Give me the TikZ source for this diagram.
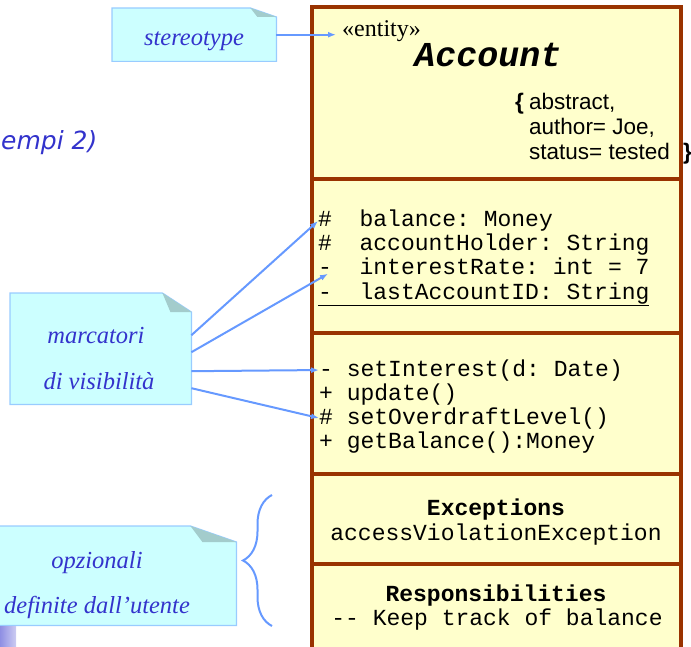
\documentclass[tikz,border=0pt]{standalone}
\usepackage{fontspec}
\setmainfont{Liberation Serif}
\setsansfont{Liberation Sans}
\setmonofont{Liberation Mono}
\newfontfamily\comicfont{DejaVu Sans}
\usetikzlibrary{calc,arrows.meta,decorations.pathreplacing}
\definecolor{notefill}{HTML}{CCFFFF}
\definecolor{noteline}{HTML}{99CCFF}
\definecolor{notefold}{HTML}{A3CCCC}
\definecolor{notetext}{HTML}{3333CC}
\definecolor{arrowblue}{HTML}{6699FF}
\definecolor{classline}{HTML}{993300}
\definecolor{classfill}{HTML}{FFFFCC}
\tikzset{
  notebox/.style={inner sep=0pt,anchor=north west},
  notestyle/.style={draw=noteline,fill=notefill,line width=1.2pt},
  notetxt/.style={anchor=base,inner sep=0pt,text=notetext,font=\itshape\fontsize{24.5}{28}\selectfont},
  codeline/.style={anchor=base west,inner sep=0pt,font=\ttfamily\fontsize{23}{25}\selectfont},
  codehead/.style={anchor=base,inner sep=0pt,font=\ttfamily\fontsize{23}{25}\selectfont},
  headbold/.style={codehead,font=\ttfamily\bfseries\fontsize{23}{25}\selectfont},
  propline/.style={anchor=base west,inner sep=0pt,font=\sffamily\fontsize{22.5}{25}\selectfont},
  propbrace/.style={propline,font=\sffamily\bfseries\fontsize{22.5}{25}\selectfont},
  visarrow/.style={arrowblue,line width=2pt,-{Latex[length=8pt,width=6pt]}},
  classbox/.style={draw=classline,line width=3.2pt,fill=classfill}
}
\begin{document}
\begin{tikzpicture}[x=1pt,y=-1pt]
\useasboundingbox (0,0) rectangle (691,647);
\clip (0,0) rectangle (691,647);
%title, cut at the left
\node[anchor=base west,inner sep=0pt,text=notetext,font=\comicfont\itshape\fontsize{25}{28}\selectfont] (title) at (1,150) {empi 2)};
%class box
\draw[classbox] (312,7) rectangle (681,670);
\foreach \y in {179,333,474,564}
{
\draw[classline,line width=3.2pt] (312,\y) -- (681,\y);
}
%name compartment
\node[anchor=base west,inner sep=0pt,font=\fontsize{24}{26}\selectfont] (stereo) at (342,37) {«entity»};
\node[anchor=base,inner sep=0pt,font=\ttfamily\bfseries\itshape\fontsize{35}{40}\selectfont] (cname) at (488,67) {Account};
\node[propbrace] (lbrace) at (515,110) {\{};
\node[propline] (prop1) at (529,110) {abstract,};
\node[propline] (prop2) at (529,135) {author= Joe,};
\node[propline] (prop3) at (529,160) {status= tested};
\node[propbrace] (rbrace) at (683,160) {\}};
%attributes
\node[codeline] (att1) at (318,227) {\#~~balance: Money};
\node[codeline] (att2) at (318,251) {\#~~accountHolder: String};
\node[codeline] (att3) at (318,275) {-~~interestRate: int = 7};
\node[codeline] (att4) at (318,299) {\underline{-~~lastAccountID: String}};
%operations
\node[codeline] (op1) at (319,376) {- setInterest(d: Date)};
\node[codeline] (op2) at (319,400) {+ update()};
\node[codeline] (op3) at (319,424) {\# setOverdraftLevel()};
\node[codeline] (op4) at (319,448) {+ getBalance():Money};
%exceptions and responsibilities
\node[headbold] (exc) at (496,515) {Exceptions};
\node[codehead] (excitem) at (496,540) {accessViolationException};
\node[headbold] (resp) at (496,601) {Responsibilities};
\node[codehead] (respitem) at (497,625) {-{}- Keep track of balance};
%notes
\node[notebox,minimum width=164pt,minimum height=53pt] (stnote) at (112,8) {};
\draw[notestyle] (stnote.south west) -- (stnote.north west) -- ([xshift=-26pt]stnote.north east) -- ([yshift=-9pt]stnote.north east) -- (stnote.south east) -- cycle;
\fill[notefold] ([xshift=-26pt]stnote.north east) -- ([xshift=-19pt,yshift=-9pt]stnote.north east) -- ([yshift=-9pt]stnote.north east) -- cycle;
\node[notetxt] (sttext) at (194,46) {stereotype};
\node[notebox,minimum width=181pt,minimum height=111pt] (mknote) at (10,293) {};
\draw[notestyle] (mknote.south west) -- (mknote.north west) -- ([xshift=-29pt]mknote.north east) -- ([yshift=-19pt]mknote.north east) -- (mknote.south east) -- cycle;
\fill[notefold] ([xshift=-29pt]mknote.north east) -- ([xshift=-21pt,yshift=-19pt]mknote.north east) -- ([yshift=-19pt]mknote.north east) -- cycle;
\node[notetxt] (mktext1) at (96,343) {marcatori};
\node[notetxt] (mktext2) at (99,389) {di visibilità};
\node[notebox,minimum width=246pt,minimum height=99pt] (opnote) at (-10,526) {};
\draw[notestyle] (opnote.south west) -- (opnote.north west) -- ([xshift=-46pt]opnote.north east) -- ([yshift=-16pt]opnote.north east) -- (opnote.south east) -- cycle;
\fill[notefold] ([xshift=-46pt]opnote.north east) -- ([xshift=-34pt,yshift=-16pt]opnote.north east) -- ([yshift=-16pt]opnote.north east) -- cycle;
\node[notetxt] (optext1) at (97,568) {opzionali};
\node[notetxt] (optext2) at (97,613) {definite dall’utente};
%arrows
\draw[visarrow,shorten >=6pt] (stnote.east) -- (stnote.east -| stereo.west);
\draw[visarrow] ([yshift=13.5pt]mknote.east) -- (att1.west);
\draw[visarrow] ([yshift=-3.5pt]mknote.east) -- ([xshift=10pt,yshift=-7pt]att3.west);
\draw[visarrow] ([yshift=-22.5pt]mknote.east) -- (op1.west);
\draw[visarrow] ([yshift=-39.5pt]mknote.east) -- (op3.west);
%brace
\coordinate (brtop) at (272,495);
\coordinate (brbot) at (272,626);
\draw[arrowblue,line width=2pt,decorate,decoration={brace,amplitude=29pt}] (brbot) -- (brtop);
%corner mark
\shade[left color=notetext!55,right color=notetext!25] (0,626) rectangle (16,647);
\end{tikzpicture}
\end{document}
